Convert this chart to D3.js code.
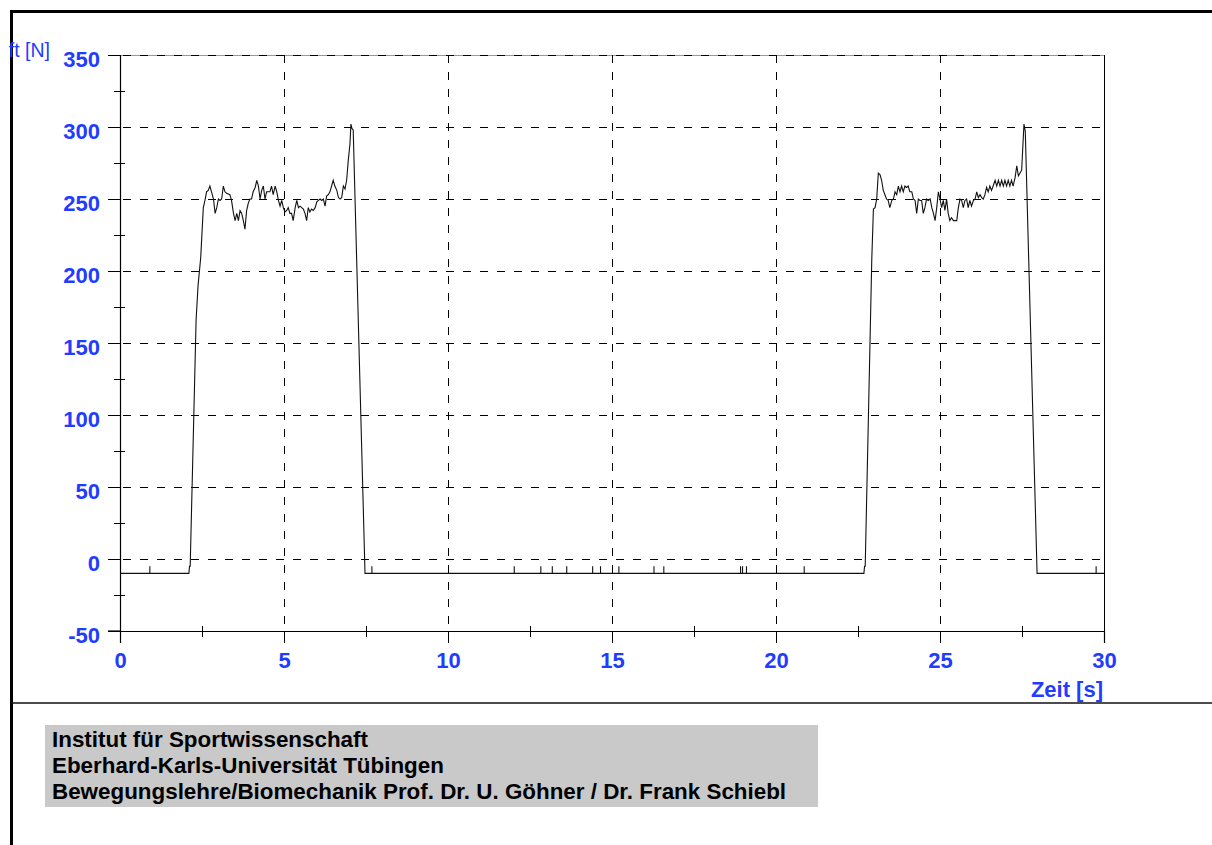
<!DOCTYPE html>
<html>
<head>
<meta charset="utf-8">
<script src="https://cdn.jsdelivr.net/npm/d3@7/dist/d3.min.js"></script>
<style>
  html, body { margin: 0; padding: 0; background: #fff; }
  svg { display: block; }
  text { font-family: "Liberation Sans", Arial, sans-serif; }
</style>
</head>
<body>
<svg id="chart" width="1212" height="845"></svg>
<script>
// ---------- data ----------
const xTickValues = [0, 5, 10, 15, 20, 25, 30];
const yTickValues = [-50, 0, 50, 100, 150, 200, 250, 300, 350];
const xLabel = "Zeit [s]";
const yLabel = "ft [N]";   // visible part of the axis title in the reference
const footerLines = [
  "Institut für Sportwissenschaft",
  "Eberhard-Karls-Universität Tübingen",
  "Bewegungslehre/Biomechanik Prof. Dr. U. Göhner / Dr. Frank Schiebl"
];

const baselineForce = -10;
const spikeForce = -5;
const spikeTimes = [0.91, 7.68, 12.02, 12.83, 13.18, 13.62, 14.41, 14.65, 15.21, 16.28, 16.58, 18.92, 18.98, 19.10, 20.86, 29.76];

const burst1Time = [2.10,2.12,2.14,2.32,2.38,2.46,2.54,2.59,2.64,2.69,2.74,2.79,2.85,2.90,2.95,3.00,3.05,3.10,3.15,3.20,3.25,3.35,3.40,3.46,3.51,3.56,3.61,3.66,3.71,3.76,3.81,3.86,3.91,3.96,4.01,4.06,4.12,4.17,4.22,4.27,4.32,4.37,4.42,4.47,4.57,4.62,4.67,4.73,4.78,4.83,4.88,4.93,4.98,5.03,5.08,5.13,5.18,5.23,5.28,5.34,5.39,5.44,5.49,5.54,5.59,5.64,5.69,5.74,5.79,5.84,5.89,5.95,6.00,6.05,6.10,6.15,6.20,6.25,6.30,6.35,6.40,6.45,6.50,6.55,6.61,6.66,6.71,6.76,6.81,6.86,6.91,6.96,7.01,7.04,7.07,7.11,7.47];
const burst1Force = [-10,-5,-5,166,190,209,244,249,255,256,259,255,250,240,244,250,249,250,259,255,254,253,249,240,235,240,235,242,240,235,229,242,247,250,250,255,258,263,259,250,256,259,250,255,255,259,253,259,255,249,245,249,244,241,242,244,240,240,235,244,249,244,245,244,243,240,235,244,241,243,242,244,248,249,250,249,250,245,252,253,255,259,263,259,256,251,250,251,259,257,263,277,288,302,299,298,-10];

const burst2Time = [22.68,22.70,22.72,22.92,22.97,23.02,23.07,23.12,23.17,23.22,23.27,23.32,23.37,23.42,23.47,23.53,23.58,23.63,23.68,23.73,23.78,23.83,23.88,23.93,23.98,24.03,24.08,24.14,24.19,24.24,24.29,24.34,24.39,24.44,24.49,24.54,24.59,24.64,24.70,24.75,24.80,24.85,24.90,24.95,25.00,25.05,25.10,25.15,25.20,25.25,25.30,25.35,25.41,25.46,25.51,25.56,25.61,25.66,25.71,25.76,25.81,25.86,25.91,25.96,26.02,26.07,26.12,26.17,26.22,26.27,26.32,26.37,26.42,26.47,26.52,26.57,26.62,26.68,26.73,26.78,26.83,26.88,26.93,26.98,27.03,27.08,27.13,27.18,27.23,27.29,27.34,27.39,27.44,27.49,27.52,27.56,27.60,27.96];
const burst2Force = [-10,-5,-5,208,243,244,250,268,267,263,256,253,250,249,244,249,250,255,253,259,255,259,255,259,258,259,255,255,250,249,240,250,249,249,240,244,250,249,250,244,240,235,244,255,250,244,249,242,250,240,235,237,235,235,235,244,250,249,244,249,250,244,249,245,249,250,255,251,253,251,250,253,258,255,259,256,259,263,259,263,259,263,259,263,259,263,259,263,259,265,273,266,268,270,284,302,297,-10];

// ---------- build series ----------
const series = [];
series.push([0, baselineForce]);
spikeTimes.forEach(t => { series.push([t, baselineForce], [t, spikeForce], [t, baselineForce]); });
burst1Time.forEach((t, i) => series.push([t, burst1Force[i]]));
burst2Time.forEach((t, i) => series.push([t, burst2Force[i]]));
series.push([30, baselineForce]);
series.sort((a, b) => a[0] - b[0]);

// ---------- layout ----------
const svg = d3.select("#chart");
const pLeft = 120, pRight = 1104, pTop = 55, pBottom = 631;
const blue = "#1f3cff";
const ink = "#000";
const fmt = d => String(d);   // plain hyphen minus, as in the reference

const x = d3.scaleLinear().domain([0, 30]).range([pLeft, pRight]);
const y = d3.scaleLinear().domain([-50, 350]).range([pBottom, pTop]);

// grid
const grid = svg.append("g").attr("shape-rendering", "crispEdges");
grid.selectAll("line.h").data(yTickValues.filter(v => v === 350)).enter().append("line")
  .attr("x1", pLeft).attr("x2", pRight)
  .attr("y1", d => y(d)).attr("y2", d => y(d))
  .attr("stroke", "#999").attr("stroke-width", 1);
grid.selectAll("line.hd").data(yTickValues.filter(v => v > -50)).enter().append("line")
  .attr("x1", pLeft + 3).attr("x2", pRight)
  .attr("y1", d => y(d)).attr("y2", d => y(d))
  .attr("stroke", ink).attr("stroke-width", 1)
  .attr("stroke-dasharray", "8,9");
grid.selectAll("line.v").data(xTickValues.filter(v => v > 0 && v < 30)).enter().append("line")
  .attr("x1", d => x(d)).attr("x2", d => x(d))
  .attr("y1", pTop).attr("y2", pBottom)
  .attr("stroke", ink).attr("stroke-width", 1)
  .attr("stroke-dasharray", "8,9");

// right frame of plot
svg.append("line").attr("shape-rendering", "crispEdges")
  .attr("x1", pRight).attr("x2", pRight).attr("y1", pTop).attr("y2", pBottom)
  .attr("stroke", ink).attr("stroke-width", 1);

// axes
const yAxis = d3.axisLeft(y).tickValues(yTickValues).tickSize(12).tickFormat(fmt);
const gy = svg.append("g").attr("transform", `translate(${pLeft},0)`).call(yAxis);
gy.select(".domain").attr("stroke", ink).attr("stroke-width", 1.2);
gy.selectAll(".tick line").attr("stroke", ink).attr("stroke-width", 1).attr("shape-rendering", "crispEdges");
gy.selectAll(".tick text").attr("x", -20).attr("dy", "0.5em")
  .attr("font-size", 22).attr("font-weight", "bold").attr("fill", blue)
  .style("font-family", '"Liberation Sans", Arial, sans-serif');

const yMinor = d3.range(-25, 350, 50);
svg.append("g").attr("shape-rendering", "crispEdges").selectAll("line").data(yMinor).enter().append("line")
  .attr("x1", pLeft - 6).attr("x2", pLeft + 5)
  .attr("y1", d => y(d)).attr("y2", d => y(d))
  .attr("stroke", ink).attr("stroke-width", 1);

const xAxis = d3.axisBottom(x).tickValues(xTickValues).tickSize(12).tickFormat(fmt);
const gx = svg.append("g").attr("transform", `translate(0,${pBottom})`).call(xAxis);
gx.select(".domain").attr("stroke", ink).attr("stroke-width", 1.2);
gx.selectAll(".tick line").attr("stroke", ink).attr("stroke-width", 1).attr("shape-rendering", "crispEdges");
gx.selectAll(".tick text").attr("y", 37).attr("dy", 0)
  .attr("font-size", 22).attr("font-weight", "bold").attr("fill", blue)
  .style("font-family", '"Liberation Sans", Arial, sans-serif');
svg.append("line").attr("x1", pLeft - 12).attr("x2", pLeft).attr("y1", pBottom).attr("y2", pBottom)
  .attr("stroke", ink).attr("stroke-width", 1.2);

const xMinor = d3.range(2.5, 30, 5);
svg.append("g").attr("shape-rendering", "crispEdges").selectAll("line").data(xMinor).enter().append("line")
  .attr("x1", d => x(d)).attr("x2", d => x(d))
  .attr("y1", pBottom - 5).attr("y2", pBottom + 6)
  .attr("stroke", ink).attr("stroke-width", 1);

svg.append("text")
  .attr("x", pRight - 1).attr("y", 697)
  .attr("text-anchor", "end")
  .attr("font-size", 22).attr("font-weight", "bold").attr("fill", blue)
  .text(xLabel);

// data line
const line = d3.line().x(d => x(d[0])).y(d => y(d[1]));
svg.append("path").datum(series)
  .attr("d", line)
  .attr("fill", "none").attr("stroke", "#111").attr("stroke-width", 1.1)
  .attr("stroke-linejoin", "miter");

// outer frame
svg.append("line").attr("x1", 11.5).attr("x2", 11.5).attr("y1", 10).attr("y2", 845)
  .attr("stroke", "#000").attr("stroke-width", 3);
svg.append("line").attr("x1", 10).attr("x2", 1212).attr("y1", 11.5).attr("y2", 11.5)
  .attr("stroke", "#000").attr("stroke-width", 3);
svg.append("line").attr("x1", 11).attr("x2", 1212).attr("y1", 703).attr("y2", 703)
  .attr("stroke", "#111").attr("stroke-width", 1.6);

// y axis title (only its tail shows in the reference, next to the frame)
svg.append("text")
  .attr("x", 50).attr("y", 57)
  .attr("text-anchor", "end")
  .attr("font-size", 19.5).attr("fill", blue)
  .text(yLabel);

// footer
svg.append("rect").attr("x", 45).attr("y", 725).attr("width", 773).attr("height", 82)
  .attr("fill", "#c9c9c9");
svg.append("g").selectAll("text").data(footerLines).enter().append("text")
  .attr("x", 52).attr("y", (d, i) => 747 + i * 26)
  .attr("font-size", 22.4).attr("font-weight", "bold").attr("fill", "#000")
  .text(d => d);
</script>
</body>
</html>
